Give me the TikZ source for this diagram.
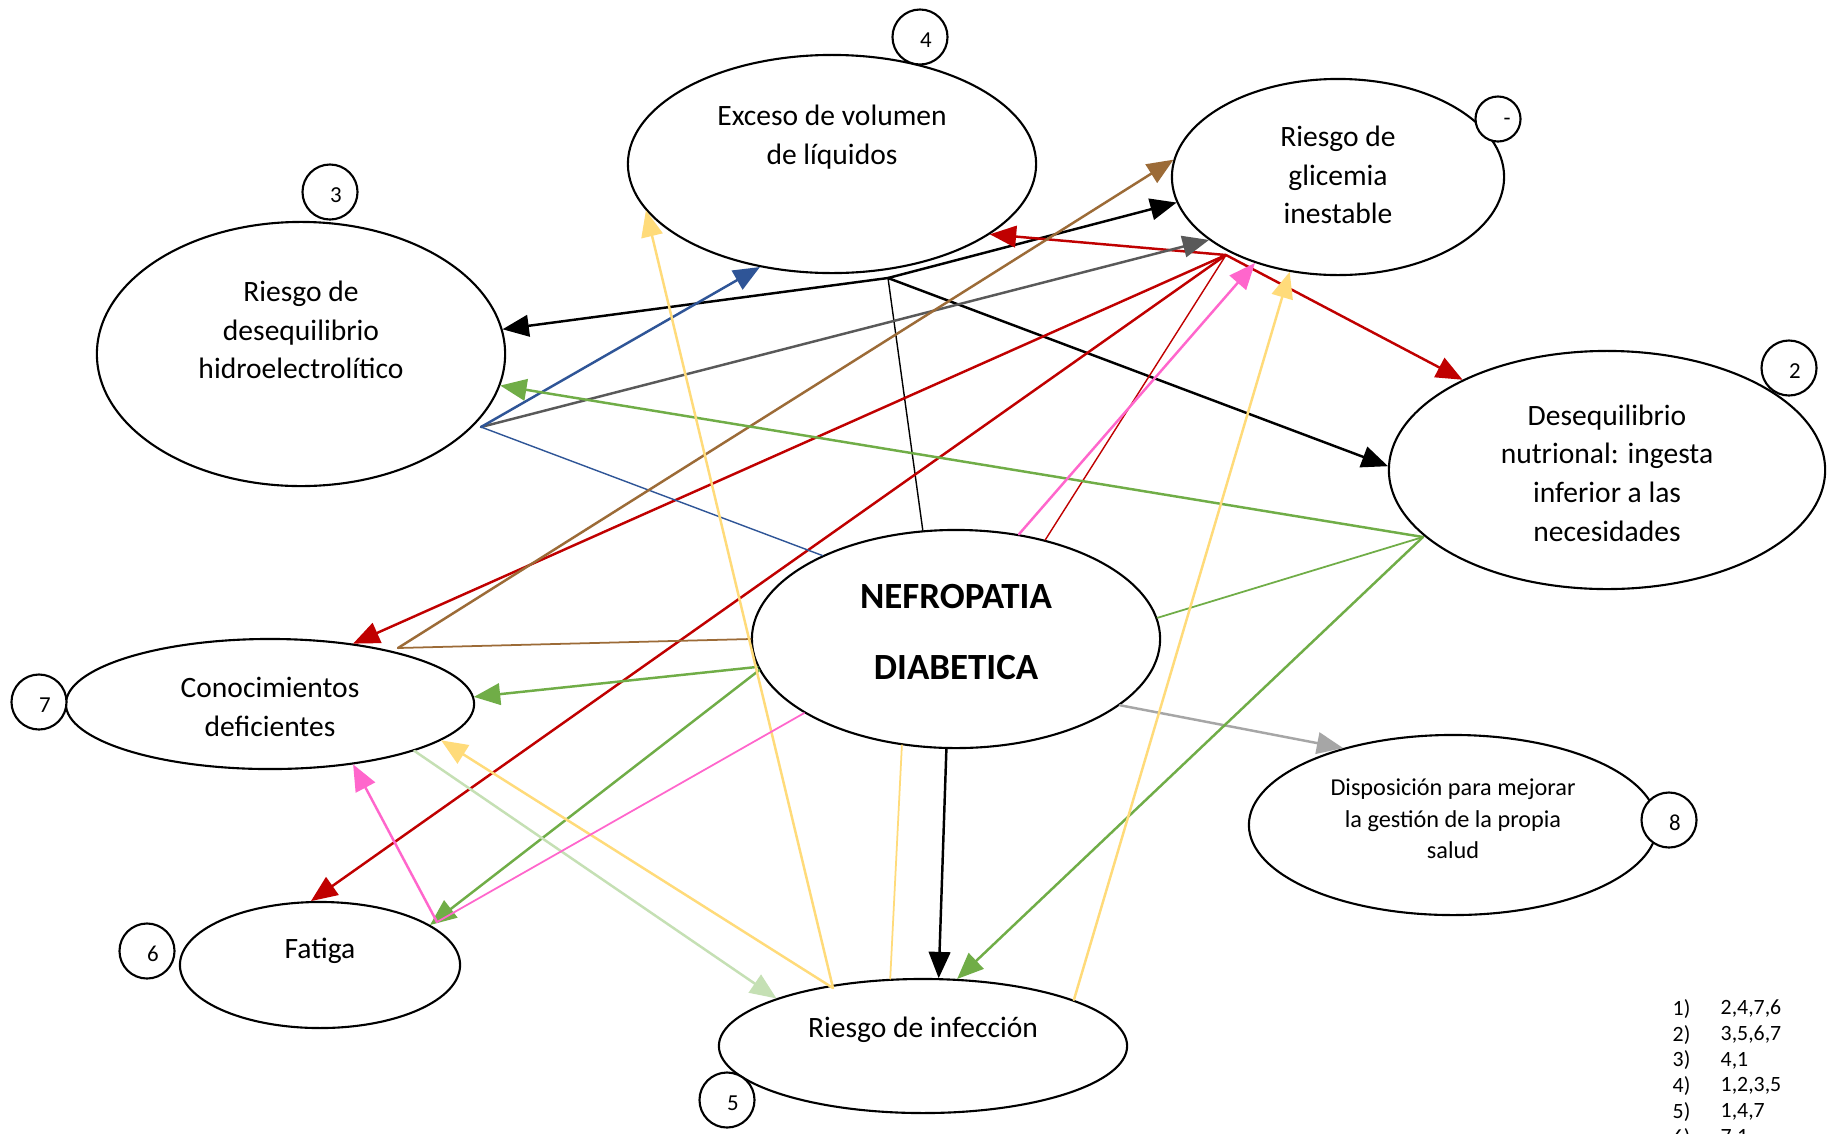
\documentclass[tikz,border=0pt]{standalone}
\usepackage{fontspec}
\setmainfont{Carlito}
\usetikzlibrary{arrows}
\usetikzlibrary{shapes.geometric}
\definecolor{rojo}{HTML}{C00000}
\definecolor{cafe}{HTML}{9C6B37}
\definecolor{gris}{HTML}{595959}
\definecolor{grisc}{HTML}{A6A6A6}
\definecolor{azul}{HTML}{2F5597}
\definecolor{verde}{HTML}{70AD47}
\definecolor{verdec}{HTML}{C5E0B4}
\definecolor{amarillo}{HTML}{FFDB7A}
\definecolor{rosa}{HTML}{FF66CC}

\begin{document}
\begin{tikzpicture}[line cap=round,line join=round,>=triangle 45,x=0.01cm,y=-0.01cm,
  elli/.style={ellipse,draw=black,line width=0.6pt,fill=white,inner sep=0pt},
  lbl/.style={align=center,inner sep=0pt,font=\fontsize{8.4}{11}\selectfont},
  numc/.style={circle,draw=black,line width=0.6pt,fill=white,minimum size=0.55cm,inner sep=0pt},
  numt/.style={inner sep=0pt,font=\fontsize{6.5}{8}\selectfont},
  lista/.style={inner sep=0pt,anchor=west,font=\fontsize{6.2}{7}\selectfont},
  flecha/.style={->,line width=0.7pt},
  linea/.style={line width=0.4pt}]
\useasboundingbox[fill=white] (0,0) rectangle (1834,1133);
% diagnosticos
\node[elli,minimum width=4.08cm,minimum height=2.18cm] (exceso) at (832,164) {};
\node[elli,minimum width=3.32cm,minimum height=1.96cm] (glic) at (1338,177) {};
\node[elli,minimum width=4.08cm,minimum height=2.64cm] (deseq) at (301,354) {};
\node[elli,minimum width=4.36cm,minimum height=2.38cm] (nutri) at (1607,470) {};
\node[elli,minimum width=4.08cm,minimum height=2.18cm] (nef) at (956,639) {};
\node[elli,minimum width=4.08cm,minimum height=1.30cm] (conoc) at (270,704) {};
\node[elli,minimum width=4.08cm,minimum height=1.80cm] (dispo) at (1453,825) {};
\node[elli,minimum width=2.80cm,minimum height=1.26cm] (fatiga) at (320,965) {};
\node[elli,minimum width=4.08cm,minimum height=1.34cm] (infec) at (923,1046) {};
\node[lbl] (excesoT) at (832,137) {Exceso de volumen\\de líquidos};
\node[lbl] (glicT) at (1338,175) {Riesgo de\\glicemia\\inestable};
\node[lbl] (deseqT) at (301,330) {Riesgo de\\desequilibrio\\hidroelectrolítico};
\node[lbl] (nutriT) at (1607,473) {Desequilibrio\\nutrional: ingesta\\inferior a las\\necesidades};
\node[lbl,font=\fontsize{10.5}{20}\selectfont\bfseries] (nefT) at (956,632) {NEFROPATIA\\DIABETICA};
\node[lbl] (conocT) at (270,707) {Conocimientos\\deficientes};
\node[lbl,font=\fontsize{6.9}{9}\selectfont] (dispoT) at (1453,819) {Disposición para mejorar\\la gestión de la propia\\salud};
\node[lbl] (fatigaT) at (320,951) {Fatiga};
\node[lbl] (infecT) at (923,1030) {Riesgo de infección};
% numeros
\node[numc,minimum size=0.45cm] (c1) at (1498,119) {};
\node[numt] (t1) at (1507,122) {-};
\foreach \n/\cx/\cy in {4/920/37,3/330/192,2/1789/368,8/1669/820,7/39/702,6/147/951,5/727/1100}{
  \node[numc] (c\n) at (\cx,\cy) {};
  \node[numt] (t\n) at ({\cx+6},{\cy+3}) {\n};
}
% puntos de union
\coordinate (hubE) at (888,278);
\coordinate (hubG) at (1226,255);
\coordinate (hubD) at (481,427);
\coordinate (hubK) at (398,648);
\coordinate (hubN) at (1423,537);
\coordinate (hubI) at (833,988);
\coordinate (hubT) at (437,922);
% negro
\draw[linea] (nef.107) -- (hubE);
\draw[flecha] (hubE) -- (deseq.7);
\draw[flecha] (hubE) -- (glic.189);
\draw[flecha] (hubE) -- (nutri.179);
\draw[flecha] (nef.265) -- (infec.77);
% rojo
\draw[flecha,rojo] (hubG) -- (exceso.336);
\draw[flecha,rojo] (hubG) -- (nutri.148);
\draw[flecha,rojo] (hubG) -- (conoc.36);
\draw[flecha,rojo] (hubG) -- (fatiga.98);
\draw[linea,rojo] (hubG) -- (nef.48);
% gris y azul
\draw[flecha,gris] (hubD) -- (glic.206);
\draw[linea,azul] (hubD) -- (nef.148);
\draw[flecha,azul] (hubD) -- (exceso.235);
\draw[flecha,grisc] (nef.338) -- (dispo.145);
% cafe
\draw[flecha,cafe] (hubK) -- (glic.174);
\draw[linea,cafe,line width=0.5pt] (hubK) -- (nef.180);
% verde
\draw[flecha,verde] (hubN) -- (deseq.351);
\draw[linea,verde,line width=0.5pt] (hubN) -- (nef.6);
\draw[flecha,verde] (hubN) -- (infec.63);
\draw[flecha,verde] (nef.188) -- (conoc.2);
\draw[flecha,verde] (nef.189) -- (fatiga.20);
\draw[flecha,verdec] (conoc.342) -- (infec.162);
% amarillo
\draw[flecha,amarillo] (hubI) -- (conoc.348);
\draw[flecha,amarillo] (hubI) -- (exceso.194);
\draw[linea,amarillo,line width=0.5pt] (nef.243) -- (infec.116);
\draw[flecha,amarillo] (infec.17) -- (glic.243);
% rosa
\draw[flecha,rosa] (hubT) -- (conoc.324);
\draw[linea,rosa,line width=0.5pt] (hubT) -- (nef.206);
\draw[flecha,rosa] (nef.59) -- (glic.226);
% lista
\foreach \v [count=\i] in {{2,4,7,6},{3,5,6,7},{4,1},{1,2,3,5},{1,4,7},{7,1}}{
  \node[lista] (n\i) at (1672,{1009+(\i-1)*25.75}) {\i)};
  \node[lista] (v\i) at (1720,{1009+(\i-1)*25.75}) {\v};
}
\end{tikzpicture}
\end{document}
